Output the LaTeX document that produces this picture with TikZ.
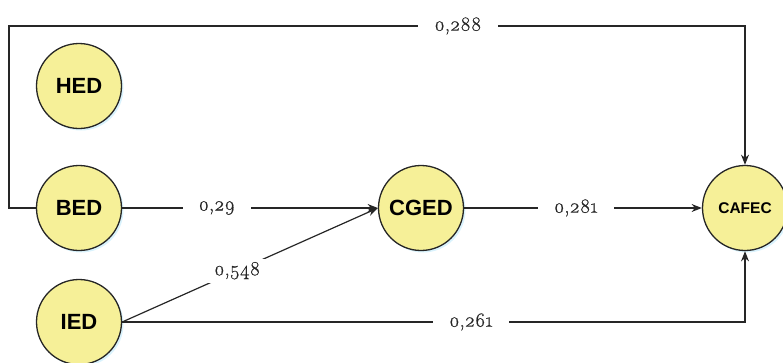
\documentclass[tikz,border=0pt]{standalone}
\usepackage{fontspec}
\setmainfont{Latin Modern Roman}[Numbers=OldStyle]
\newfontfamily\coeffont{Latin Modern Roman}[Numbers=OldStyle, FakeBold=0.6]
\newfontfamily\nodefont{Liberation Sans}
\usetikzlibrary{arrows.meta,shadows}
\definecolor{latentfill}{RGB}{246,240,152}

\begin{document}
\begin{tikzpicture}[
  x=1pt, y=-1pt,
  latent/.style={circle, draw=black!85, line width=1.3pt, fill=latentfill, minimum size=85pt, inner sep=0pt,
    font=\nodefont\bfseries\fontsize{22}{22}\selectfont,
    drop shadow={fill=cyan!25, opacity=0.6, shadow xshift=2pt, shadow yshift=-2pt}},
  path/.style={-{Stealth[length=3.6mm, width=2.8mm]}, line width=1.2pt, black!85},
  coef/.style={fill=white, inner xsep=16pt, font=\coeffont\fontsize{20}{20}\selectfont}
]
  \useasboundingbox (0,0) rectangle (783,362);

  \node[latent] (hed) at (79,86) {HED};
  \node[latent] (bed) at (79,208) {BED};
  \node[latent] (ied) at (79,322) {IED};
  \node[latent] (cged) at (421,208) {CGED};
  \node[latent, font=\nodefont\bfseries\fontsize{15.5}{15.5}\selectfont] (cafec) at (745,208) {CAFEC};

  \coordinate (topleft) at (9,26);
  \coordinate (leftend) at (9,208);

  \draw[path] (bed.west) -- (leftend) -- (topleft) -- (cafec.north |- topleft)
    node[coef, pos=0.61] {0,288} -- (cafec.north);
  \draw[path] (bed) -- node[coef, pos=0.37] {0,29} (cged);
  \draw[path] (ied.east) -- node[coef, pos=0.45] {0,548} (cged.west);
  \draw[path] (cged) -- node[coef, pos=0.47] {0,281} (cafec);
  \draw[path] (ied.east) -- (cafec.south |- ied.east)
    node[coef, pos=0.56] {0,261} -- (cafec.south);
\end{tikzpicture}
\end{document}
